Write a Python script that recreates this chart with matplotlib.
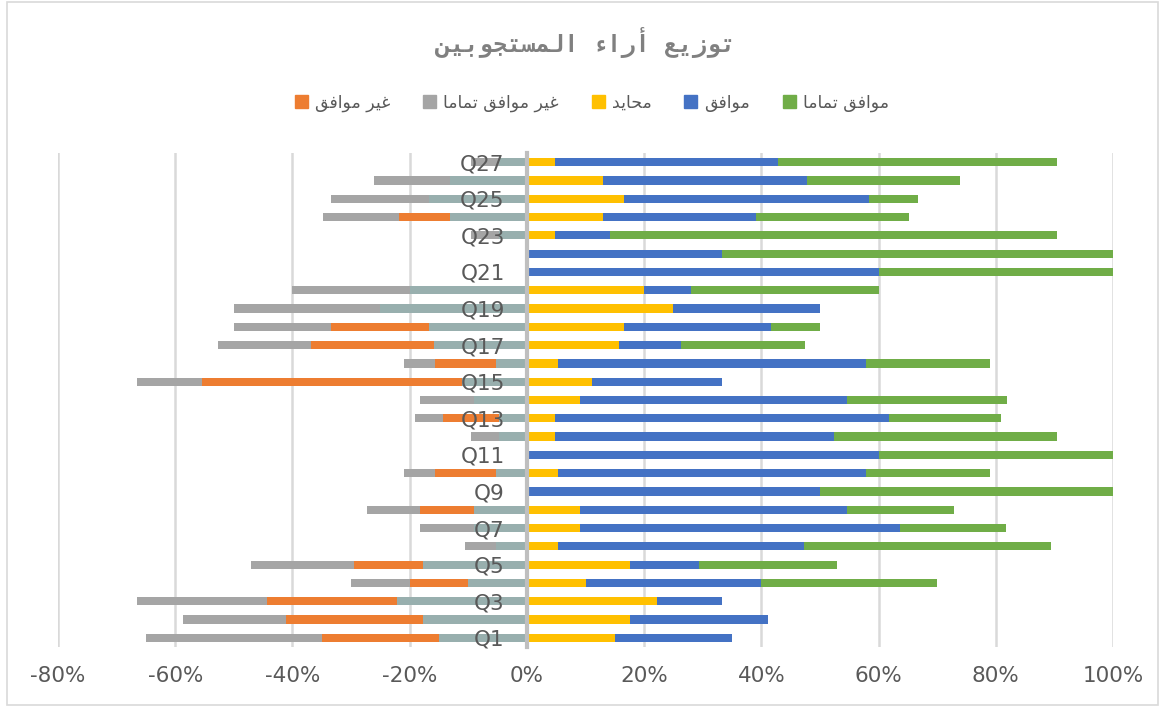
import matplotlib
matplotlib.use('Agg')
import matplotlib.pyplot as plt
from matplotlib.patches import Rectangle, Patch
from matplotlib.ticker import PercentFormatter, FixedLocator
import numpy as np

# ---------------- data (percent of respondents) ----------------
questions = [f'Q{i}' for i in range(1, 28)]
strongly_agree    = [0, 0, 0, 30, 23.5, 42.1, 18.2, 18.2, 50, 21.1, 40, 38.1, 19.0, 27.3,
                     0, 21.1, 21.1, 8.3, 0, 32, 40, 66.7, 76.2, 26.1, 8.3, 26.1, 47.6]
agree             = [20, 23.5, 11.1, 30, 11.8, 42.1, 54.5, 45.5, 50, 52.6, 60, 47.6, 57.1, 45.5,
                     22.2, 52.6, 10.5, 25, 25, 8, 60, 33.3, 9.5, 26.1, 41.7, 34.8, 38.1]
neutral           = [30, 35.3, 44.4, 20, 35.3, 10.5, 18.2, 18.2, 0, 10.5, 0, 9.5, 9.5, 18.2,
                     22.2, 10.5, 31.6, 33.3, 50, 40, 0, 0, 9.5, 26.1, 33.3, 26.1, 9.5]
disagree          = [20, 23.5, 22.2, 10, 11.8, 0, 0, 9.1, 0, 10.5, 0, 0, 9.5, 0,
                     44.4, 10.5, 21.1, 16.7, 0, 0, 0, 0, 0, 8.7, 0, 0, 0]
strongly_disagree = [30, 17.6, 22.2, 10, 17.6, 5.3, 9.1, 9.1, 0, 5.3, 0, 4.8, 4.8, 9.1,
                     11.1, 5.3, 15.8, 16.7, 25, 20, 0, 0, 4.8, 13.0, 16.7, 13.0, 4.8]

title_text = 'توزيع أراء المستجوبين'
label_sa = 'موافق تماما'
label_a = 'موافق'
label_n = 'محايد'
label_sd = 'غير موافق تماما'
label_d = 'غير موافق'
x_ticks = [-0.8, -0.6, -0.4, -0.2, 0, 0.2, 0.4, 0.6, 0.8, 1.0]

# ---------------- minimal Arabic shaping (presentation forms, visual order) ----------------
FORMS = {
    'ء': ('\uFE80', None, None, None),
    'أ': ('\uFE83', '\uFE84', None, None),
    'ا': ('\uFE8D', '\uFE8E', None, None),
    'ب': ('\uFE8F', '\uFE90', '\uFE91', '\uFE92'),
    'ت': ('\uFE95', '\uFE96', '\uFE97', '\uFE98'),
    'ج': ('\uFE9D', '\uFE9E', '\uFE9F', '\uFEA0'),
    'ح': ('\uFEA1', '\uFEA2', '\uFEA3', '\uFEA4'),
    'د': ('\uFEA9', '\uFEAA', None, None),
    'ر': ('\uFEAD', '\uFEAE', None, None),
    'ز': ('\uFEAF', '\uFEB0', None, None),
    'س': ('\uFEB1', '\uFEB2', '\uFEB3', '\uFEB4'),
    'ع': ('\uFEC9', '\uFECA', '\uFECB', '\uFECC'),
    'غ': ('\uFECD', '\uFECE', '\uFECF', '\uFED0'),
    'ف': ('\uFED1', '\uFED2', '\uFED3', '\uFED4'),
    'ق': ('\uFED5', '\uFED6', '\uFED7', '\uFED8'),
    'ل': ('\uFEDD', '\uFEDE', '\uFEDF', '\uFEE0'),
    'م': ('\uFEE1', '\uFEE2', '\uFEE3', '\uFEE4'),
    'ن': ('\uFEE5', '\uFEE6', '\uFEE7', '\uFEE8'),
    'و': ('\uFEED', '\uFEEE', None, None),
    'ي': ('\uFEF1', '\uFEF2', '\uFEF3', '\uFEF4'),
}


def shape(s):
    out = []
    for i, c in enumerate(s):
        if c not in FORMS:
            out.append(c)
            continue
        iso, fin, ini, med = FORMS[c]
        prev = s[i - 1] if i > 0 else None
        nxt = s[i + 1] if i + 1 < len(s) else None
        jp = prev in FORMS and FORMS[prev][2] is not None and fin is not None
        jn = ini is not None and nxt in FORMS and FORMS[nxt][1] is not None
        if jp and jn:
            out.append(med)
        elif jp:
            out.append(fin)
        elif jn:
            out.append(ini)
        else:
            out.append(iso)
    return ''.join(out)[::-1]


# ---------------- styling ----------------
plt.rcParams['font.family'] = ['Liberation Sans Narrow', 'DejaVu Sans']
plt.rcParams['axes.unicode_minus'] = False
C_SA, C_A, C_N, C_SD, C_D = '#70AD47', '#4472C4', '#FFC000', '#A5A5A5', '#ED7D31'
C_NNEG = '#98AFAE'
TXT = '#595959'

W, H = 1164, 706
fig = plt.figure(figsize=(W / 100, H / 100), dpi=100)
fig.patches.append(Rectangle((6.5 / W, 1.5 / H), (1157.5 - 6.5) / W, (704.5 - 1.5) / H,
                             transform=fig.transFigure, fill=False, edgecolor='#D9D9D9', lw=1.2))

ax = fig.add_axes([58 / W, 1 - 647 / H, (1113 - 58) / W, (647 - 153) / H])

y = np.arange(len(questions))
sa = np.array(strongly_agree) / 100
a = np.array(agree) / 100
half = np.array(neutral) / 200
d = np.array(disagree) / 100
sd = np.array(strongly_disagree) / 100

bh = 0.45
ax.barh(y, half, left=0, height=bh, color=C_N, zorder=2)
ax.barh(y, a, left=half, height=bh, color=C_A, zorder=2)
ax.barh(y, sa, left=half + a, height=bh, color=C_SA, zorder=2)
ax.barh(y, -half, left=0, height=bh, color=C_NNEG, zorder=2)
ax.barh(y, -d, left=-half, height=bh, color=C_D, zorder=2)
ax.barh(y, -sd, left=-half - d, height=bh, color=C_SD, zorder=2)

ax.set_xlim(-0.8, 1.0)
ax.set_ylim(-0.5, len(questions) - 0.5)
for xv in x_ticks:
    if xv != 0:
        ax.axvline(xv, color='#D9D9D9', lw=1.8, zorder=0)

for s in ['top', 'right', 'bottom']:
    ax.spines[s].set_visible(False)
ax.spines['left'].set_position(('data', 0))
ax.spines['left'].set_color('#BFBFBF')
ax.spines['left'].set_linewidth(3)
ax.spines['left'].set_zorder(3)

ax.xaxis.set_major_locator(FixedLocator(x_ticks))
ax.xaxis.set_major_formatter(PercentFormatter(1.0, decimals=0))
ax.tick_params(axis='x', length=0, pad=14, labelsize=15.5, labelcolor=TXT)
ax.set_yticks(y[::2])
ax.set_yticklabels(questions[::2])
ax.tick_params(axis='y', length=0, pad=16, labelsize=15.5, labelcolor=TXT)
ax.yaxis.set_zorder(5)

fig.text(586 / W, 1 - 43 / H, shape(title_text), ha='center', va='center', fontsize=17,
         fontweight='bold', color='#808080', family=['DejaVu Sans Mono', 'DejaVu Sans'])

handles = [Patch(color=C_D), Patch(color=C_SD), Patch(color=C_N), Patch(color=C_A), Patch(color=C_SA)]
labels = [shape(label_d), shape(label_sd), shape(label_n), shape(label_a), shape(label_sa)]
leg = fig.legend(handles, labels, ncol=5, loc='center', bbox_to_anchor=(592 / W, 1 - 103 / H),
                 frameon=False, handlelength=0.75, handleheight=0.75, handletextpad=0.4,
                 columnspacing=1.9, prop={'family': 'DejaVu Sans', 'size': 12.5})
for t in leg.get_texts():
    t.set_color(TXT)

fig.savefig('out.png', dpi=100)
